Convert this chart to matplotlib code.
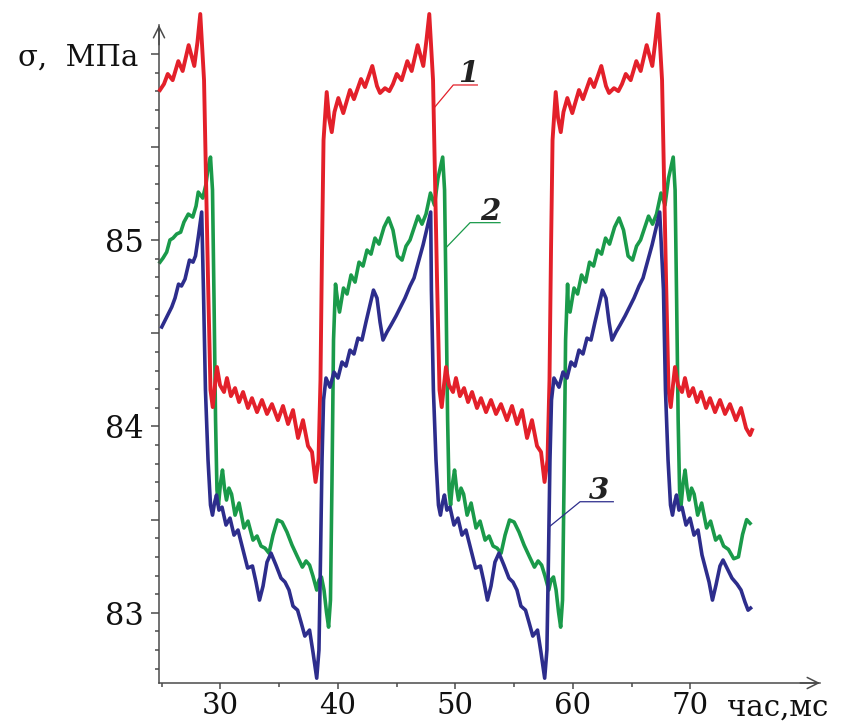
import matplotlib
matplotlib.use('Agg')
import matplotlib.pyplot as plt
from matplotlib.ticker import FixedLocator, FuncFormatter

plt.rcParams['font.family'] = ['DejaVu Serif']

# values (time in ms, stress in MPa)
# curve 1 (red)
red_t = [24.87, 25.21, 25.53, 25.95, 26.43, 26.80, 27.31, 27.79, 28.06, 28.30,
         28.62, 28.79, 28.96, 29.17, 29.36, 29.55, 29.72, 29.98, 30.32, 30.57,
         30.91, 31.26, 31.60, 31.94, 32.36, 32.70, 33.13, 33.55, 33.98, 34.40,
         34.91, 35.34, 35.77, 36.19, 36.62, 37.04, 37.47, 37.81, 38.11, 38.36,
         38.53, 38.66, 38.79,
         39.06, 39.26, 39.49, 39.72, 40.05, 40.47, 41.04, 41.38, 41.98, 42.32,
         42.94, 43.34, 43.60, 44.02, 44.39, 44.70, 45.02, 45.44, 45.92, 46.29,
         46.80, 47.28, 47.55, 47.79,
         48.11, 48.28, 48.45, 48.66, 48.85, 49.04, 49.21, 49.47, 49.81, 50.06,
         50.40, 50.75, 51.09, 51.43, 51.85, 52.19, 52.62, 53.04, 53.47, 53.89,
         54.40, 54.83, 55.26, 55.68, 56.11, 56.53, 56.96, 57.30, 57.60, 57.85,
         58.02, 58.15, 58.28,
         58.55, 58.75, 58.98, 59.21, 59.54, 59.96, 60.53, 60.87, 61.47, 61.81,
         62.43, 62.83, 63.09, 63.51, 63.88, 64.19, 64.51, 64.93, 65.41, 65.78,
         66.29, 66.77, 67.04, 67.28,
         67.60, 67.77, 67.94, 68.15, 68.34, 68.53, 68.70, 68.96, 69.30, 69.55,
         69.89, 70.24, 70.58, 70.92, 71.34, 71.68, 72.11, 72.53, 72.96, 73.38,
         73.89, 74.32, 74.75, 75.09, 75.26]
red_start = [85.806, 85.838, 85.892, 85.859, 85.961, 85.908, 86.047, 85.935, 86.063, 86.214]
red_low = [85.859, 85.323, 84.786, 84.195, 84.104, 84.222, 84.319, 84.222, 84.185, 84.260,
           84.163, 84.206, 84.131, 84.185, 84.099, 84.152, 84.077, 84.142, 84.067, 84.120,
           84.034, 84.110, 84.013, 84.088, 83.938, 84.034, 83.895, 83.863, 83.702, 83.820,
           84.249, 84.947, 85.537]
red_high = [85.795, 85.655, 85.580, 85.688, 85.763, 85.682, 85.806, 85.757, 85.865, 85.822,
            85.935, 85.827, 85.790, 85.816, 85.800, 85.838, 85.892, 85.859, 85.961, 85.908,
            86.047, 85.935, 86.074, 86.214]
red_end = [85.859, 85.323, 84.786, 84.195, 84.104, 84.222, 84.319, 84.222, 84.185, 84.260,
           84.163, 84.206, 84.131, 84.185, 84.099, 84.152, 84.077, 84.142, 84.067, 84.120,
           84.034, 84.099, 83.991, 83.954, 83.981]
red_v = red_start + red_low + red_high + red_low + red_high + red_end

# curve 2 (green)
green_t = [24.87, 25.13, 25.44, 25.72, 25.98, 26.29, 26.63, 26.91, 27.28, 27.66,
           27.94, 28.13, 28.51, 28.79, 28.96, 29.17,
           29.34, 29.47, 29.60, 29.72, 29.85, 30.02, 30.19, 30.36, 30.53, 30.74,
           30.96, 31.26, 31.60, 32.02, 32.36, 32.79, 33.13, 33.47, 33.81, 34.15,
           34.49, 34.87, 35.26, 35.68, 36.11, 36.58, 36.99, 37.30, 37.60, 37.89,
           38.21, 38.40, 38.61, 38.83, 39.04, 39.22, 39.38, 39.51, 39.64, 39.81,
           39.98, 40.15, 40.49, 40.79, 41.13, 41.47, 41.81, 42.15, 42.49, 42.83,
           43.17, 43.51, 43.94, 44.32, 44.70, 45.09, 45.47, 45.81, 46.15, 46.49,
           46.83, 47.17, 47.51, 47.89, 48.23, 48.53, 48.93,
           49.09, 49.22, 49.35, 49.47, 49.60, 49.77, 49.94, 50.11, 50.28, 50.49,
           50.71, 51.01, 51.35, 51.77, 52.11, 52.54, 52.88, 53.22, 53.56, 53.90,
           54.24, 54.62, 55.01, 55.43, 55.86, 56.33, 56.74, 57.05, 57.35, 57.64,
           57.96, 58.15, 58.36, 58.58, 58.79, 58.97, 59.13, 59.26, 59.39, 59.56,
           59.60, 59.77, 60.11, 60.41, 60.75, 61.09, 61.43, 61.77, 62.11, 62.45,
           62.79, 63.13, 63.56, 63.94, 64.32, 64.71, 65.09, 65.43, 65.77, 66.11,
           66.45, 66.79, 67.13, 67.51, 67.85, 68.15, 68.55,
           68.71, 68.84, 68.97, 69.09, 69.22, 69.39, 69.56, 69.73, 69.90, 70.11,
           70.33, 70.63, 70.97, 71.39, 71.73, 72.16, 72.50, 72.84, 73.25, 73.70,
           74.10, 74.45, 74.80, 75.09]
green_start = [84.882, 84.904, 84.936, 85.001, 85.011, 85.033, 85.043, 85.097, 85.140, 85.124,
               85.183, 85.258, 85.226, 85.301, 85.387, 85.446]
green_low = [85.269, 84.679, 84.034, 83.659, 83.578, 83.696, 83.766, 83.669, 83.605, 83.669,
             83.637, 83.524, 83.589, 83.455, 83.492, 83.390, 83.412, 83.358, 83.347, 83.320,
             83.417, 83.498, 83.487, 83.433, 83.363, 83.299, 83.245, 83.278, 83.256, 83.197,
             83.122, 83.176, 83.192, 83.122, 83.004, 82.923, 83.068, 83.712, 84.464, 84.764]
green_high = [84.679, 84.614, 84.743, 84.711, 84.813, 84.775, 84.882, 84.861, 84.947, 84.925,
              85.011, 84.979, 85.070, 85.119, 85.054, 84.915, 84.893, 84.968, 85.001, 85.065,
              85.129, 85.086, 85.140, 85.253, 85.188, 85.333, 85.446]
green_end = [85.269, 84.679, 84.034, 83.659, 83.578, 83.696, 83.766, 83.669, 83.605, 83.669,
             83.637, 83.524, 83.589, 83.455, 83.492, 83.390, 83.412, 83.358, 83.340, 83.290,
             83.300, 83.420, 83.500, 83.480]
green_v = green_start + green_low + green_high + green_low + green_high + green_end

# curve 3 (blue)
blue_t = [25.02, 25.44, 25.87, 26.15, 26.45, 26.70, 27.00, 27.38, 27.68, 27.89,
          28.13, 28.42,
          28.57, 28.74, 28.96, 29.17, 29.34, 29.51, 29.68, 29.89, 30.15, 30.49,
          30.83, 31.17, 31.51, 31.94, 32.33, 32.74, 33.04, 33.34, 33.64, 33.98,
          34.32, 34.74, 35.17, 35.51, 35.85, 36.19, 36.58, 36.87, 37.20, 37.60,
          37.89, 38.21, 38.40, 38.53, 38.66, 38.79, 39.00,
          39.34, 39.68, 40.02, 40.36, 40.70, 41.04, 41.38, 41.72, 42.06, 42.40,
          42.74, 43.04, 43.34, 43.60, 43.85, 44.19, 44.53, 44.96, 45.38, 45.72,
          46.15, 46.49, 46.91, 47.26, 47.60, 47.91,
          47.97, 48.14, 48.36, 48.57, 48.74, 48.91, 49.08, 49.29, 49.55, 49.89,
          50.23, 50.57, 50.91, 51.34, 51.73, 52.14, 52.44, 52.74, 53.04, 53.38,
          53.72, 54.14, 54.57, 54.91, 55.25, 55.59, 55.98, 56.27, 56.60, 57.00,
          57.29, 57.61, 57.80, 57.93, 58.06, 58.19, 58.40,
          58.83, 59.17, 59.51, 59.85, 60.19, 60.53, 60.87, 61.21, 61.55, 61.89,
          62.23, 62.53, 62.83, 63.09, 63.34, 63.68, 64.02, 64.45, 64.87, 65.21,
          65.64, 65.98, 66.40, 66.75, 67.09, 67.40,
          67.72, 67.89, 68.11, 68.32, 68.49, 68.66, 68.83, 69.04, 69.30, 69.64,
          69.98, 70.32, 70.66, 71.00, 71.34, 71.60, 71.89, 72.19, 72.53, 72.79,
          73.13, 73.55, 73.98, 74.32, 74.66, 74.92, 75.13]
blue_start = [84.534, 84.587, 84.641, 84.689, 84.764, 84.754, 84.791, 84.893, 84.882, 84.915,
              85.017, 85.151]
blue_low = [84.732, 84.195, 83.820, 83.578, 83.524, 83.589, 83.632, 83.551, 83.567, 83.471,
            83.508, 83.417, 83.444, 83.337, 83.240, 83.251, 83.165, 83.068, 83.143, 83.272,
            83.320, 83.256, 83.186, 83.165, 83.122, 83.036, 83.014, 82.950, 82.875, 82.907,
            82.789, 82.649, 82.800, 83.283, 83.820, 84.142, 84.260]
blue_high = [84.211, 84.292, 84.260, 84.346, 84.324, 84.410, 84.389, 84.474, 84.464, 84.560,
             84.652, 84.732, 84.689, 84.560, 84.464, 84.507, 84.544, 84.593, 84.646, 84.689,
             84.754, 84.797, 84.893, 84.974, 85.065, 85.151]
blue_end = [84.732, 84.195, 83.820, 83.578, 83.524, 83.589, 83.632, 83.551, 83.567, 83.471,
            83.508, 83.417, 83.444, 83.310, 83.229, 83.165, 83.068, 83.149, 83.251, 83.283,
            83.240, 83.186, 83.154, 83.122, 83.057, 83.014, 83.025]
blue_v = blue_start + blue_low + blue_high + blue_low + blue_high + blue_end

x_major = [30, 40, 50, 60, 70]
x_minor = [25, 35, 45, 55, 65]
y_major = [83, 83.5, 84, 84.5, 85, 85.5, 86]
y_labelled = [83, 84, 85]

RED = '#e3202a'
GREEN = '#1a9a4a'
BLUE = '#2d2d8c'
AXC = '#4a4a4a'

fig = plt.figure(figsize=(8.43, 7.25), dpi=100)
ax = fig.add_axes([159 / 843, 42 / 725, 661 / 843, 658 / 725])

# peaks rise a little above the arrow tip in the original, so no clipping
ax.plot(green_t, green_v, color=GREEN, lw=2.6, solid_joinstyle='round', zorder=2, clip_on=False)
ax.plot(red_t, red_v, color=RED, lw=2.8, solid_joinstyle='round', zorder=3, clip_on=False)
ax.plot(blue_t, blue_v, color=BLUE, lw=2.6, solid_joinstyle='round', zorder=4, clip_on=False)

ax.set_xlim(24.787, 81.042)
ax.set_ylim(82.623, 86.155)

for s in ['top', 'right']:
    ax.spines[s].set_visible(False)
for s in ['left', 'bottom']:
    ax.spines[s].set_color(AXC)
    ax.spines[s].set_linewidth(1.1)

# axis arrows
ax.annotate('', xy=(1, 0), xycoords='axes fraction', xytext=(0.97, 0),
            arrowprops=dict(arrowstyle='->,head_length=0.8,head_width=0.4', color=AXC, lw=1.1,
                            shrinkA=0, shrinkB=0))
ax.annotate('', xy=(0, 1), xycoords='axes fraction', xytext=(0, 0.97),
            arrowprops=dict(arrowstyle='->,head_length=0.8,head_width=0.4', color=AXC, lw=1.1,
                            shrinkA=0, shrinkB=0))

ax.xaxis.set_major_locator(FixedLocator(x_major))
ax.xaxis.set_minor_locator(FixedLocator(x_minor))
ax.yaxis.set_major_locator(FixedLocator(y_major))
ax.yaxis.set_minor_locator(FixedLocator([round(82.7 + 0.1 * i, 1) for i in range(34)]))
ax.yaxis.set_major_formatter(FuncFormatter(lambda v, p: '%d' % v if v in y_labelled else ''))

ax.tick_params(axis='both', which='both', color=AXC, width=1.1, labelcolor='#111111', labelsize=22)
ax.tick_params(axis='y', which='major', length=5.8, pad=5)
ax.tick_params(axis='y', which='minor', length=3.2)
ax.tick_params(axis='x', which='major', length=4.5, pad=2, labelsize=21)
ax.tick_params(axis='x', which='minor', length=3)

# curve labels with leader lines
ax.plot([48.16, 49.83, 51.88], [85.707, 85.833, 85.833], color=RED, lw=0.9, zorder=5)
ax.plot([49.16, 51.26, 53.81], [84.956, 85.094, 85.094], color=GREEN, lw=0.9, zorder=5)
ax.plot([57.97, 60.62, 63.45], [83.46, 83.596, 83.596], color=BLUE, lw=0.9, zorder=5)
for lbl, tx, ty in [('1', 51.11, 85.848), ('2', 52.99, 85.107), ('3', 62.23, 83.61)]:
    ax.text(tx, ty, lbl, ha='center', va='baseline', fontsize=21, style='italic',
            weight='bold', color='#222222', zorder=6)

fig.text(138 / 843, 1 - 66 / 725, 'σ,  МПа', ha='right', va='baseline', fontsize=21, color='#111111')
fig.text(727 / 843, 9 / 725, 'час,мс', ha='left', va='baseline', fontsize=21, color='#111111')

fig.savefig('out.png', dpi=100)
